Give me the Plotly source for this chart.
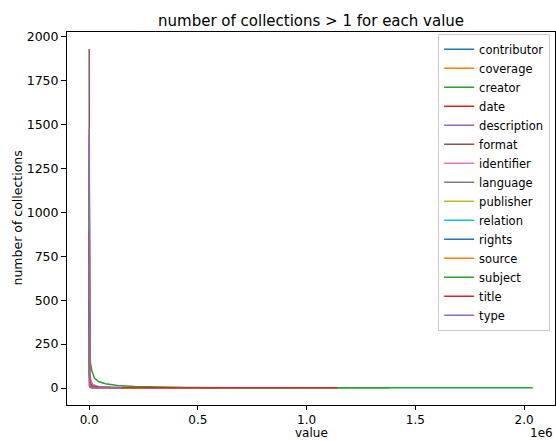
import plotly.graph_objects as go

names = ["contributor", "coverage", "creator", "date", "description", "format",
         "identifier", "language", "publisher", "relation", "rights", "source",
         "subject", "title", "type"]

contributor_x = [0, 1000, 4000, 15000, 50000, 150000]
contributor_y = [600, 80, 20, 6, 2, 1]
coverage_x = [0, 500, 2000, 8000, 30000]
coverage_y = [150, 20, 6, 2, 1]
creator_x = [0, 1500, 5000, 15000, 40000, 100000, 300000, 1380000]
creator_y = [1200, 150, 50, 20, 8, 4, 2, 1]
date_x = [0, 1000, 5000, 20000, 80000, 400000]
date_y = [800, 60, 15, 5, 2, 1]
description_x = [0, 1500, 6000, 25000, 100000, 600000]
description_y = [1400, 120, 30, 8, 3, 1]
format_x = [0, 300, 1500, 6000, 20000, 60000]
format_y = [1930, 80, 15, 5, 2, 1]
identifier_x = [0, 2000, 10000, 50000, 200000, 900000]
identifier_y = [1000, 100, 20, 5, 2, 1]
language_x = [0, 400, 2000, 8000, 30000]
language_y = [1475, 40, 8, 3, 1]
publisher_x = [0, 1000, 5000, 20000, 80000, 250000]
publisher_y = [700, 60, 12, 4, 2, 1]
relation_x = [0, 800, 4000, 15000, 60000]
relation_y = [400, 30, 8, 3, 1]
rights_x = [0, 500, 3000, 12000, 50000]
rights_y = [500, 40, 8, 3, 1]
source_x = [0, 800, 4000, 20000, 80000]
source_y = [350, 30, 8, 3, 1]
subject_x = [0, 2000, 6000, 12000, 25000, 45000, 75000, 130000, 210000, 320000, 450000, 700000, 2040000]
subject_y = [1300, 250, 140, 100, 55, 36, 25, 15, 9, 5, 3, 2, 1]
title_x = [0, 1000, 5000, 15000, 50000, 150000, 1140000]
title_y = [900, 80, 25, 10, 4, 2, 1]
type_x = [0, 500, 2500, 10000, 40000, 150000]
type_y = [1442, 60, 12, 4, 2, 1]

series_x = [contributor_x, coverage_x, creator_x, date_x, description_x, format_x,
            identifier_x, language_x, publisher_x, relation_x, rights_x, source_x,
            subject_x, title_x, type_x]
series_y = [contributor_y, coverage_y, creator_y, date_y, description_y, format_y,
            identifier_y, language_y, publisher_y, relation_y, rights_y, source_y,
            subject_y, title_y, type_y]

x_tickvals = [0, 500000, 1000000, 1500000, 2000000]
x_ticktext = ["0.0", "0.5", "1.0", "1.5", "2.0"]
y_tickvals = [0, 250, 500, 750, 1000, 1250, 1500, 1750, 2000]

colors = ["#1f77b4", "#ff7f0e", "#2ca02c", "#d62728", "#9467bd",
          "#8c564b", "#e377c2", "#7f7f7f", "#bcbd22", "#17becf"]

FONT = "DejaVu Sans"
fig = go.Figure()
for i, (n, xs, ys) in enumerate(zip(names, series_x, series_y)):
    fig.add_trace(go.Scatter(x=xs, y=ys, mode="lines", name=n,
                             line=dict(color=colors[i % 10], width=1.5)))

W, H = 556, 441
L, R, T, B = 67, 1, 32, 36
fig.update_layout(
    width=W, height=H,
    margin=dict(l=L, r=R, t=T, b=B),
    plot_bgcolor="white", paper_bgcolor="white",
    font=dict(family=FONT, size=12.5, color="black"),
    showlegend=True,
    legend=dict(x=0.99, y=0.995, xanchor="right", yanchor="top",
                bgcolor="rgba(255,255,255,0.8)", bordercolor="#cccccc", borderwidth=1,
                font=dict(family=FONT, size=11.5), itemwidth=30, tracegroupgap=0),
    annotations=[
        dict(text="number of collections > 1 for each value", xref="paper", yref="paper",
             x=0.5, y=1, yshift=11, yanchor="middle", showarrow=False,
             font=dict(family=FONT, size=15)),
        dict(text="value", xref="paper", yref="paper", x=0.5, y=0, yshift=-28,
             yanchor="middle", showarrow=False, font=dict(family=FONT, size=12)),
        dict(text="number of collections", xref="paper", yref="paper", x=0, xshift=-50,
             xanchor="center", yanchor="middle",
             y=0.5, textangle=-90, showarrow=False, font=dict(family=FONT, size=12.5)),
        dict(text="1e6", xref="paper", yref="paper", x=1, xanchor="right", y=0, yshift=-28,
             yanchor="middle", showarrow=False, font=dict(family=FONT, size=12)),
    ],
)
fig.update_xaxes(range=[-102000, 2142000], tickvals=x_tickvals, ticktext=x_ticktext,
                 showgrid=False, zeroline=False, showline=True, linecolor="black",
                 linewidth=1, mirror=True, ticks="outside", ticklen=4, tickcolor="black",
                 tickfont=dict(family=FONT, size=12))
fig.update_yaxes(range=[-96.5, 2026.5], tickvals=y_tickvals,
                 showgrid=False, zeroline=False, showline=True, linecolor="black",
                 linewidth=1, mirror=True, ticks="outside", ticklen=5, tickcolor="black",
                 tickfont=dict(family=FONT, size=12.5))

fig.write_html("out.html")
